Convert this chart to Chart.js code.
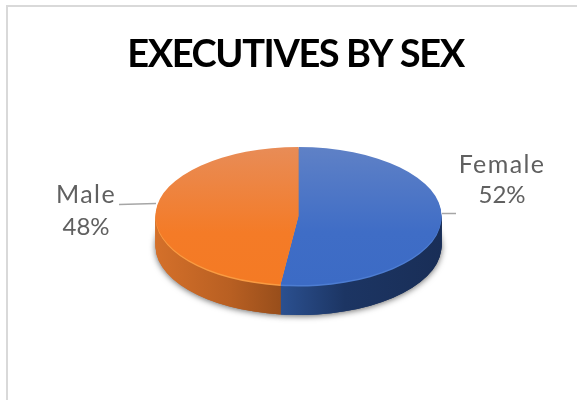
<!DOCTYPE html>
<html>
<head>
<meta charset="utf-8">
<style>html,body{margin:0;background:#fff}canvas{display:block}</style>
<script src="https://cdn.jsdelivr.net/npm/chart.js@4"></script>
</head>
<body>
<canvas id="c" width="577" height="400"></canvas>
<script>
// Executive headcount split, in percent
const categories = ['Female', 'Male'];
const shares = [52, 48];
const chartTitle = 'EXECUTIVES BY SEX';

// Tilted-disc look
const radius = 143;
const squash = 69 / 143;
const depth = 30;
const faceStops = [
  [[0, '#5f81c6'], [0.62, '#3f6dc6'], [1, '#3c6bc5']],
  [[0, '#e88c57'], [0.62, '#f47b27'], [1, '#f47a24']]
];
const wallStops = [
  [[0, '#2b5090'], [0.4, '#1c3563'], [1, '#192e57']],
  [[0, '#d4702a'], [0.6, '#b85f22'], [1, '#984e1b']]
];
const rimColors = ['#4d7dd2', '#f99b42'];
const calloutColor = '#606060';
const callouts = [
  {x: 502, nameY: 173, pctY: 203, leader: [[442, 213], [456, 213]]},
  {x: 86, nameY: 203, pctY: 235, leader: [[156, 203], [119, 204]]}
];

function fillFor(ctx, stops, x0, y0, x1, y1) {
  const g = ctx.createLinearGradient(x0, y0, x1, y1);
  stops.forEach(s => g.addColorStop(s[0], s[1]));
  return g;
}

function tilt(ctx, arc) {
  ctx.translate(arc.x, arc.y);
  ctx.scale(1, squash);
  ctx.translate(-arc.x, -arc.y);
}

function drawLayer(ctx, arc, fill, drop) {
  const base = arc.options;
  const over = Object.create(base);
  over.backgroundColor = fill;
  arc.options = over;
  ctx.save();
  ctx.translate(0, drop);
  tilt(ctx, arc);
  arc.draw(ctx);
  ctx.restore();
  arc.options = base;
}

const tiltedDisc = {
  id: 'tiltedDisc',
  beforeDraw(chart) {
    const ctx = chart.ctx;
    ctx.save();
    ctx.strokeStyle = '#d9d9d9';
    ctx.lineWidth = 2;
    ctx.beginPath();
    ctx.moveTo(7, 400);
    ctx.lineTo(7, 6);
    ctx.lineTo(577, 6);
    ctx.stroke();
    ctx.fillStyle = '#000';
    ctx.font = 'bold 38px Lato';
    ctx.letterSpacing = '-1.4px';
    ctx.textAlign = 'center';
    ctx.fillText(chartTitle, 295.5, 67);
    ctx.restore();
  },
  beforeDatasetsDraw(chart) {
    const ctx = chart.ctx;
    const arcs = chart.getDatasetMeta(0).data;
    const a = arcs[0];
    const splitX = a.x + radius * Math.sin(2 * Math.PI * shares[0] / 100);
    const grads = [
      fillFor(ctx, wallStops[0], splitX, 0, a.x + radius, 0),
      fillFor(ctx, wallStops[1], a.x - radius, 0, splitX, 0)
    ];
    // soft shadow cast beneath the disc
    ctx.save();
    ctx.shadowColor = 'rgba(0,0,0,0.6)';
    ctx.shadowBlur = 6;
    ctx.shadowOffsetY = 1;
    arcs.forEach((arc, i) => drawLayer(ctx, arc, grads[i], depth));
    ctx.restore();
    // side wall, bottom layer upward
    for (let d = depth; d >= 2; d--) {
      arcs.forEach((arc, i) => drawLayer(ctx, arc, grads[i], d));
    }
    arcs.forEach((arc, i) => drawLayer(ctx, arc, rimColors[i], 1.5));
    ctx.save();
    tilt(ctx, a);
  },
  afterDatasetsDraw(chart) {
    const ctx = chart.ctx;
    ctx.restore();
    ctx.save();
    ctx.strokeStyle = '#a6a6a6';
    ctx.lineWidth = 1.5;
    callouts.forEach(c => {
      ctx.beginPath();
      c.leader.forEach((p, i) => i ? ctx.lineTo(p[0], p[1] + 0.5) : ctx.moveTo(p[0], p[1] + 0.5));
      ctx.stroke();
    });
    ctx.fillStyle = calloutColor;
    ctx.textAlign = 'center';
    callouts.forEach((c, i) => {
      ctx.font = '25px Lato';
      ctx.letterSpacing = '1.4px';
      ctx.fillText(categories[i], c.x, c.nameY);
      ctx.font = '24px Lato';
      ctx.letterSpacing = '0px';
      ctx.fillText(shares[i] + '%', c.x, c.pctY);
    });
    ctx.restore();
  }
};

new Chart(document.getElementById('c'), {
  type: 'pie',
  data: {
    labels: categories,
    datasets: [{
      data: shares,
      borderWidth: 0,
      radius: radius,
      backgroundColor(c) {
        const a = c.chart.getDatasetMeta(0).data[0];
        const cx = c.chart.width / 2;
        const cy = a && a.y ? a.y : 216;
        return fillFor(c.chart.ctx, faceStops[c.dataIndex], cx, cy - radius, cx, cy + radius);
      }
    }]
  },
  options: {
    responsive: false,
    animation: false,
    events: [],
    // centre of the disc sits at (298.5, 216)
    layout: {padding: {left: 20, top: 32, bottom: 0, right: 0}},
    plugins: {
      legend: {display: false},
      tooltip: {enabled: false},
      title: {display: false}
    }
  },
  plugins: [tiltedDisc]
});
</script>
</body>
</html>
